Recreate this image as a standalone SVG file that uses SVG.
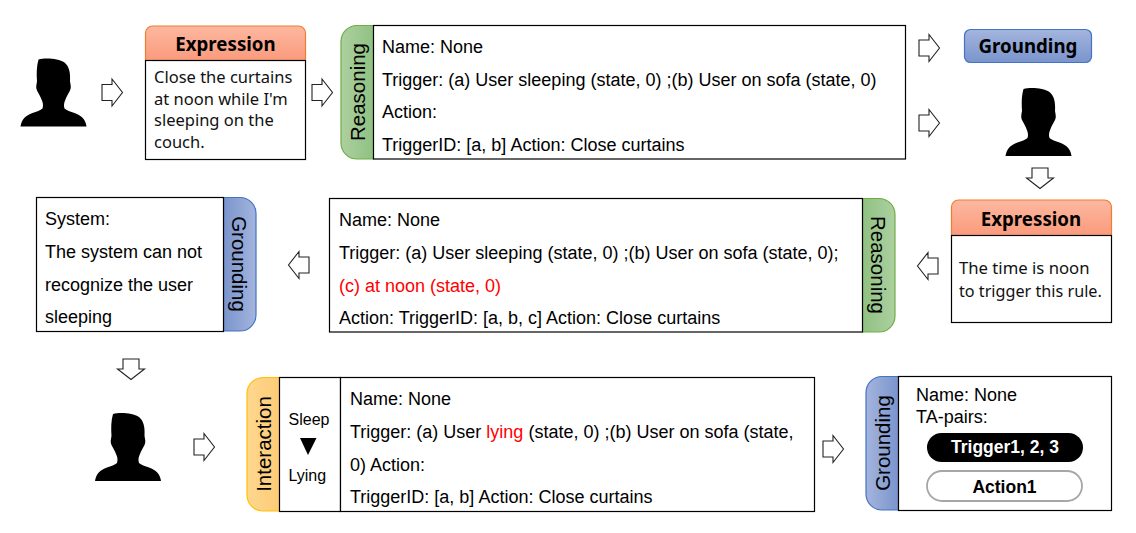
<svg xmlns="http://www.w3.org/2000/svg" width="1136" height="533" viewBox="0 0 1136 533">
<style>
text{font-family:"Liberation Sans",Arial,sans-serif;fill:#000}
.b{fill:#fff;stroke:#000;stroke-width:1.2}
.t{font-size:18px}
.r{fill:#f00}
.y{font-family:"Noto Sans","Liberation Sans",sans-serif;font-size:16.500px;fill:#111}
.h{font-family:"Noto Sans","Liberation Sans",sans-serif;font-size:18.700px;font-weight:700;text-anchor:middle}
.v{font-size:20.500px;text-anchor:middle}
.blue{stroke:#4472c4;stroke-width:1.2}
.green{stroke:#70ad47;stroke-width:1.2}
.orange{stroke:#ed7d31;stroke-width:1.2}
.gold{stroke:#ffc000;stroke-width:1.2}
.arr{fill:#fff;stroke:#222;stroke-width:1.1}
</style>
<defs>
<linearGradient id="go" x1="0" y1="0" x2="0" y2="1"><stop offset="0" stop-color="#fcb8a0"/><stop offset="1" stop-color="#fb9a7c"/></linearGradient>
<linearGradient id="gb" x1="0" y1="0" x2="0" y2="1"><stop offset="0" stop-color="#a4b5dd"/><stop offset="1" stop-color="#7a94cd"/></linearGradient>
<linearGradient id="gbh" x1="0" y1="0" x2="1" y2="0"><stop offset="0" stop-color="#7a94cd"/><stop offset="1" stop-color="#a4b5dd"/></linearGradient>
<linearGradient id="gbl" x1="0" y1="0" x2="1" y2="0"><stop offset="0" stop-color="#a4b5dd"/><stop offset="1" stop-color="#7a94cd"/></linearGradient>
<linearGradient id="gg" x1="0" y1="0" x2="1" y2="0"><stop offset="0" stop-color="#add0a0"/><stop offset="1" stop-color="#8fc182"/></linearGradient>
<linearGradient id="ggr" x1="0" y1="0" x2="1" y2="0"><stop offset="0" stop-color="#8fc182"/><stop offset="1" stop-color="#add0a0"/></linearGradient>
<linearGradient id="gy" x1="0" y1="0" x2="1" y2="0"><stop offset="0" stop-color="#fed78f"/><stop offset="1" stop-color="#fdcb76"/></linearGradient>
<path id="person" d="M18,1C25,-1 38,0 44,4C49,8 50,15 49.500,23C50,26 51,29 49.500,32C48,35 46,38 45,41C43.500,44 43,47 44,50C46,52 50,53 54,54.500C61,57 65,61 66,68L0,68C1,61 5,57 12,54.500C16,53 20,52 22,50C23,47 22.500,44 21,41C20,38 18,35 16.500,32C15,29 16,26 16.500,23C16,15 16,8 18,1Z" fill="#000"/>
<path id="arrow" class="arr" d="M0,-8H10V-13.500L20.500,0L10,13.500V8H0Z"/>
</defs>

<g id="connectors">
<use href="#arrow" x="102" y="92.500"/>
<use href="#arrow" x="312" y="92.500"/>
<use href="#arrow" x="919" y="48"/>
<use href="#arrow" x="919" y="123"/>
<use href="#arrow" transform="translate(1040,168) rotate(90)"/>
<use href="#arrow" transform="translate(938,266) rotate(180)"/>
<use href="#arrow" transform="translate(309,265) rotate(180)"/>
<use href="#arrow" transform="translate(131,359) rotate(90)"/>
<use href="#arrow" x="194" y="447"/>
<use href="#arrow" x="823" y="449"/>
</g>

<g id="user1"><use href="#person" x="20.500" y="58.500"/></g>
<g id="user2"><use href="#person" x="1005.500" y="88"/></g>
<g id="user3"><use href="#person" x="95" y="413"/></g>

<g id="expression1">
<path d="M145.500,60.500V33a7,7 0 0 1 7,-7H298.500a7,7 0 0 1 7,7V60.500Z" fill="url(#go)" class="orange"/>
<rect class="b" x="145.500" y="60.500" width="160" height="99"/>
<text class="h" x="225.500" y="50.500">Expression</text>
<text class="y" x="154" y="83">Close the curtains</text>
<text class="y" x="154" y="105">at noon while I'm</text>
<text class="y" x="154" y="126">sleeping on the</text>
<text class="y" x="154" y="148">couch.</text>
</g>

<g id="reasoning1">
<path d="M373.500,25.500H357a16,16 0 0 0 -16,16V143a16,16 0 0 0 16,16H373.500Z" fill="url(#gg)" class="green"/>
<rect class="b" x="373.500" y="25.500" width="532" height="133.500"/>
<text class="v" transform="translate(365,92) rotate(-90)">Reasoning</text>
<text class="t" x="382" y="53">Name: None</text>
<text class="t" x="382" y="86">Trigger: (a) User sleeping (state, 0) ;(b) User on sofa (state, 0)</text>
<text class="t" x="382" y="118">Action:</text>
<text class="t" x="382" y="151">TriggerID: [a, b] Action: Close curtains</text>
</g>

<g id="grounding1">
<rect x="964.500" y="29.500" width="127" height="33" rx="6" fill="url(#gb)" class="blue"/>
<text class="h" x="1028" y="53">Grounding</text>
</g>

<g id="expression2">
<path d="M951.500,235.500V207a7,7 0 0 1 7,-7H1104.500a7,7 0 0 1 7,7V235.500Z" fill="url(#go)" class="orange"/>
<rect class="b" x="951.500" y="235.500" width="160" height="87"/>
<text class="h" x="1031" y="225.500">Expression</text>
<text class="y" x="959" y="274" style="font-size:16.700px">The time is noon</text>
<text class="y" x="959" y="297" style="font-size:16.200px">to trigger this rule.</text>
</g>

<g id="reasoning2">
<path d="M862.500,198.500H879a16,16 0 0 1 16,16V316a16,16 0 0 1 -16,16H862.500Z" fill="url(#ggr)" class="green"/>
<rect class="b" x="329.500" y="198.500" width="533" height="133.500"/>
<text class="v" transform="translate(871,265) rotate(90)">Reasoning</text>
<text class="t" x="339" y="226">Name: None</text>
<text class="t" x="339" y="259">Trigger: (a) User sleeping (state, 0) ;(b) User on sofa (state, 0);</text>
<text class="t r" x="339" y="292">(c) at noon (state, 0)</text>
<text class="t" x="339" y="324">Action: TriggerID: [a, b, c] Action: Close curtains</text>
</g>

<g id="grounding2">
<path d="M223.500,197.500H240a16,16 0 0 1 16,16V315a16,16 0 0 1 -16,16H223.500Z" fill="url(#gbh)" class="blue"/>
<rect class="b" x="36.500" y="197.500" width="187" height="134"/>
<text class="v" transform="translate(232,264) rotate(90)">Grounding</text>
<text class="t" x="45" y="225">System:</text>
<text class="t" x="45" y="258">The system can not</text>
<text class="t" x="45" y="291">recognize the user</text>
<text class="t" x="45" y="323">sleeping</text>
</g>

<g id="interaction">
<path d="M279.500,377.500H263a16,16 0 0 0 -16,16V495a16,16 0 0 0 16,16H279.500Z" fill="url(#gy)" class="gold"/>
<rect class="b" x="279.500" y="377.500" width="61" height="134"/>
<rect class="b" x="340.500" y="377.500" width="474" height="134"/>
<text class="v" transform="translate(271,444) rotate(-90)">Interaction</text>
<text x="288.500" y="425" font-size="16">Sleep</text>
<polygon points="300,438 316.500,438 308,455" fill="#000"/>
<text x="288.500" y="481" font-size="16">Lying</text>
<text class="t" x="350" y="405">Name: None</text>
<text class="t" x="350" y="438">Trigger: (a) User <tspan class="r">lying</tspan> (state, 0) ;(b) User on sofa (state,</text>
<text class="t" x="350" y="471">0) Action:</text>
<text class="t" x="350" y="503">TriggerID: [a, b] Action: Close curtains</text>
</g>

<g id="grounding3">
<path d="M898.500,376.500H882a16,16 0 0 0 -16,16V494a16,16 0 0 0 16,16H898.500Z" fill="url(#gbl)" class="blue"/>
<rect class="b" x="898.500" y="376.500" width="213" height="134"/>
<text class="v" transform="translate(890,443) rotate(-90)">Grounding</text>
<text class="t" x="916" y="401">Name: None</text>
<text class="t" x="916" y="423">TA-pairs:</text>
<rect x="927" y="433" width="156" height="29" rx="14.500" fill="#000"/>
<text x="1005" y="453" font-size="17.500" font-weight="700" text-anchor="middle" style="fill:#fff">Trigger1, 2, 3</text>
<rect x="927" y="471" width="155" height="30" rx="15" fill="#fff" stroke="#a6a6a6" stroke-width="1.800"/>
<text x="1004.500" y="493" font-size="17.500" font-weight="700" text-anchor="middle">Action1</text>
</g>
</svg>
